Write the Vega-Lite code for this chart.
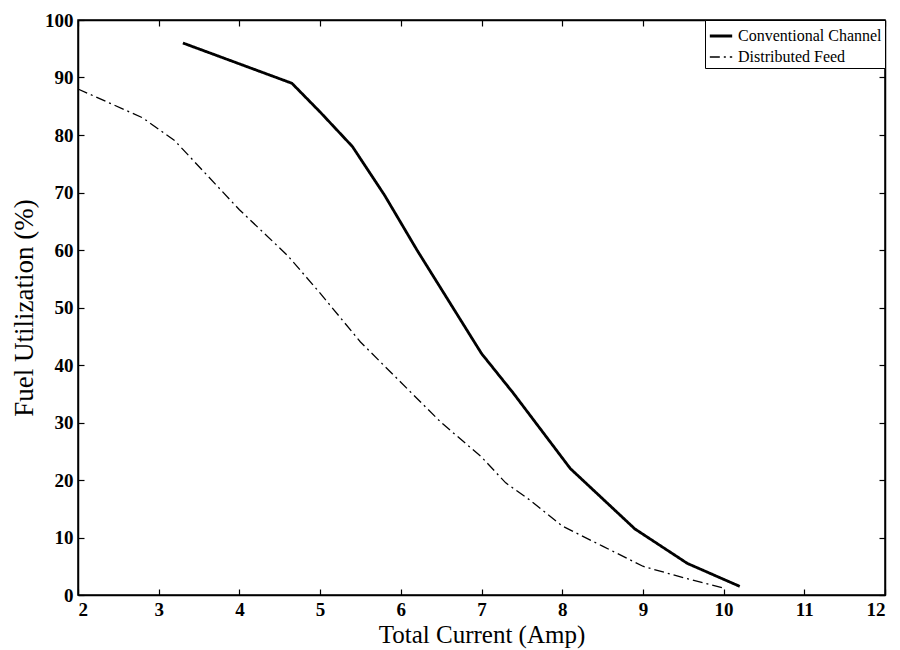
{
  "$schema": "https://vega.github.io/schema/vega-lite/v6.json",
  "width": 807,
  "height": 575,
  "autosize": "none",
  "padding": {"left": 78, "top": 20, "right": 15, "bottom": 55},
  "background": "white",
  "config": {
    "font": "Liberation Serif",
    "view": {"stroke": "black", "strokeWidth": 1.5},
    "axis": {"grid": false, "domainColor": "black", "tickColor": "black", "labelColor": "black", "titleColor": "black", "labelFont": "Liberation Serif", "titleFont": "Liberation Serif", "labelFontSize": 19, "labelFontWeight": "bold", "titleFontSize": 25, "titleFontWeight": "normal", "tickSize": -6, "domainWidth": 1.5, "tickWidth": 1.2}
  },
  "data": {"values": [
    {"series": "Conventional Channel", "x": 3.3, "y": 96},
    {"series": "Conventional Channel", "x": 4.65, "y": 89},
    {"series": "Conventional Channel", "x": 5.0, "y": 84},
    {"series": "Conventional Channel", "x": 5.4, "y": 78},
    {"series": "Conventional Channel", "x": 5.8, "y": 69.5},
    {"series": "Conventional Channel", "x": 6.2, "y": 60},
    {"series": "Conventional Channel", "x": 6.6, "y": 51},
    {"series": "Conventional Channel", "x": 7.0, "y": 42},
    {"series": "Conventional Channel", "x": 7.4, "y": 35},
    {"series": "Conventional Channel", "x": 8.1, "y": 22},
    {"series": "Conventional Channel", "x": 8.9, "y": 11.5},
    {"series": "Conventional Channel", "x": 9.55, "y": 5.5},
    {"series": "Conventional Channel", "x": 10.2, "y": 1.5},
    {"series": "Distributed Feed", "x": 2.0, "y": 88},
    {"series": "Distributed Feed", "x": 2.8, "y": 83},
    {"series": "Distributed Feed", "x": 3.2, "y": 79},
    {"series": "Distributed Feed", "x": 3.6, "y": 73},
    {"series": "Distributed Feed", "x": 4.0, "y": 67},
    {"series": "Distributed Feed", "x": 4.6, "y": 59},
    {"series": "Distributed Feed", "x": 5.0, "y": 52.5},
    {"series": "Distributed Feed", "x": 5.5, "y": 44},
    {"series": "Distributed Feed", "x": 6.0, "y": 37},
    {"series": "Distributed Feed", "x": 6.5, "y": 30},
    {"series": "Distributed Feed", "x": 7.0, "y": 24},
    {"series": "Distributed Feed", "x": 7.3, "y": 19.5},
    {"series": "Distributed Feed", "x": 7.6, "y": 16.5},
    {"series": "Distributed Feed", "x": 8.0, "y": 12},
    {"series": "Distributed Feed", "x": 8.5, "y": 8.5},
    {"series": "Distributed Feed", "x": 9.0, "y": 5},
    {"series": "Distributed Feed", "x": 9.5, "y": 3},
    {"series": "Distributed Feed", "x": 10.0, "y": 1.2}
  ]},
  "layer": [
    {
      "mark": {"type": "line", "color": "black"},
      "encoding": {
        "x": {"field": "x", "type": "quantitative", "scale": {"domain": [2, 12], "nice": false, "zero": false}, "axis": {"title": "Total Current (Amp)", "values": [2,3,4,5,6,7,8,9,10,11,12], "titlePadding": 3, "labelPadding": 11}},
        "y": {"field": "y", "type": "quantitative", "scale": {"domain": [0, 100], "nice": false}, "axis": {"title": "Fuel Utilization (%)", "titleFontSize": 27, "values": [0,10,20,30,40,50,60,70,80,90,100], "titlePadding": 6, "labelPadding": 11}},
        "strokeDash": {"field": "series", "type": "nominal", "scale": {"domain": ["Conventional Channel", "Distributed Feed"], "range": [[1, 0], [10, 4, 2, 4]]}, "legend": {"title": null, "orient": "top-right", "offset": 0, "symbolType": "stroke", "symbolSize": 500, "symbolStrokeColor": "black", "symbolStrokeWidth": 1.5, "labelFontSize": 16, "labelFont": "Liberation Serif", "labelColor": "black", "strokeColor": "black", "fillColor": "white", "padding": 3, "rowPadding": 1, "symbolOffset": 0}},
        "strokeWidth": {"field": "series", "type": "nominal", "scale": {"domain": ["Conventional Channel", "Distributed Feed"], "range": [2.8, 1.3]}, "legend": null},
        "detail": {"field": "series"}
      }
    },
    {
      "mark": {"type": "line", "opacity": 0},
      "encoding": {
        "x": {"field": "x", "type": "quantitative", "scale": {"domain": [2, 12], "nice": false, "zero": false}, "axis": {"orient": "top", "title": null, "labels": false, "values": [2,3,4,5,6,7,8,9,10,11,12]}},
        "y": {"field": "y", "type": "quantitative", "scale": {"domain": [0, 100], "nice": false}, "axis": {"orient": "right", "title": null, "labels": false, "values": [0,10,20,30,40,50,60,70,80,90,100]}},
        "detail": {"field": "series"}
      }
    }
  ],
  "resolve": {"axis": {"x": "independent", "y": "independent"}}
}
